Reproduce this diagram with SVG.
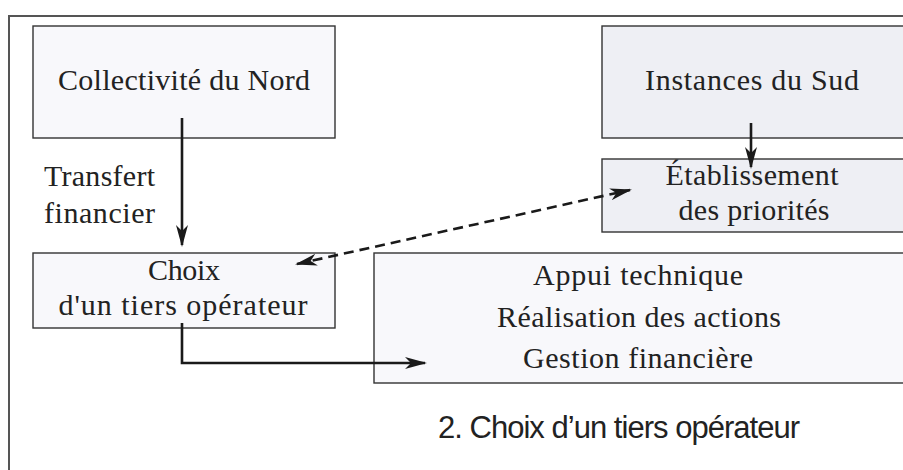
<svg xmlns="http://www.w3.org/2000/svg" width="903" height="470" viewBox="0 0 903 470">
  <style>
    .frame { fill: none; stroke: #555; stroke-width: 2; }
    .box { stroke: #333; stroke-width: 1.4; }
    .light { fill: #f8f8fb; }
    .grey { fill: #eeeff4; }
    .lbl { font-family: "Liberation Serif", "DejaVu Serif", serif; font-size: 30px; fill: #222; text-anchor: middle; }
    .side { font-family: "Liberation Serif", "DejaVu Serif", serif; font-size: 30px; fill: #222; }
    .caption { font-family: "Liberation Sans", "DejaVu Sans", sans-serif; font-size: 31px; fill: #222; }
    .wire { fill: none; stroke: #1a1a1a; stroke-width: 2.6; }
    .dash { stroke-dasharray: 10 6; }
  </style>
  <defs>
    <marker id="head" viewBox="0 0 22 12" refX="20" refY="6" markerWidth="22" markerHeight="12" markerUnits="userSpaceOnUse" orient="auto-start-reverse">
      <path d="M0,0 L22,6 L0,12 L6,6 Z" fill="#1a1a1a"/>
    </marker>
  </defs>

  <rect width="903" height="470" fill="#fff"/>
  <!-- outer frame (open to the right and bottom) -->
  <path class="frame" d="M9,470 L9,16 L903,16"/>

  <g id="nord">
    <rect class="box light" x="33" y="26" width="302" height="112"/>
    <text class="lbl" x="184" y="90" textLength="252" lengthAdjust="spacing">Collectivité du Nord</text>
  </g>

  <g id="sud">
    <rect class="box grey" x="602" y="26" width="305" height="112"/>
    <text class="lbl" x="752" y="90" textLength="214" lengthAdjust="spacing">Instances du Sud</text>
  </g>

  <g id="priorites">
    <rect class="box grey" x="602" y="159" width="305" height="73"/>
    <text class="lbl" x="752" y="185" textLength="173" lengthAdjust="spacing">Établissement</text>
    <text class="lbl" x="754" y="220" textLength="151" lengthAdjust="spacing">des priorités</text>
  </g>

  <g id="choix">
    <rect class="box light" x="33" y="253" width="302" height="75"/>
    <text class="lbl" x="184" y="280" textLength="72" lengthAdjust="spacing">Choix</text>
    <text class="lbl" x="183" y="315" textLength="249" lengthAdjust="spacing">d'un tiers opérateur</text>
  </g>

  <g id="operateur">
    <rect class="box light" x="374" y="253" width="533" height="130"/>
    <text class="lbl" x="638" y="285" textLength="210" lengthAdjust="spacing">Appui technique</text>
    <text class="lbl" x="639" y="327" textLength="284" lengthAdjust="spacing">Réalisation des actions</text>
    <text class="lbl" x="638" y="368" textLength="230" lengthAdjust="spacing">Gestion financière</text>
  </g>

  <g id="transfert">
    <text class="side" x="44" y="186" textLength="111" lengthAdjust="spacing">Transfert</text>
    <text class="side" x="44" y="223" textLength="111" lengthAdjust="spacing">financier</text>
  </g>

  <g id="connectors">
    <path class="wire" d="M182,118 L182,245" marker-end="url(#head)"/>
    <path class="wire" d="M751,123 L751,167" marker-end="url(#head)"/>
    <path class="wire dash" d="M297,264 L630,190" marker-start="url(#head)" marker-end="url(#head)"/>
    <path class="wire" d="M182,323 L182,363 L425,363" marker-end="url(#head)"/>
  </g>

  <text class="caption" x="438" y="438" textLength="362" lengthAdjust="spacing">2. Choix d’un tiers opérateur</text>
</svg>
